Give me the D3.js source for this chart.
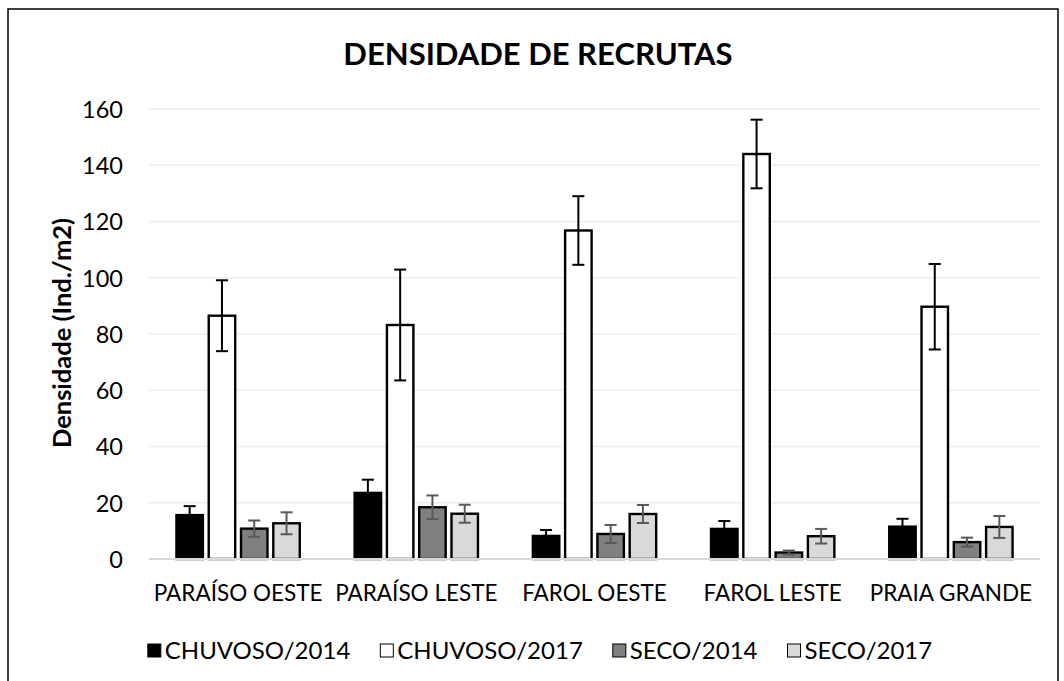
<!DOCTYPE html>
<html>
<head>
<meta charset="utf-8">
<script src="https://cdn.jsdelivr.net/npm/d3@7"></script>
<style>
  body { margin: 0; background: #fff; }
  svg { display: block; }
  text { font-family: Lato, "Open Sans", sans-serif; fill: #000; }
</style>
</head>
<body>
<div id="chart"></div>
<script>
// data
var categories = ["PARAÍSO OESTE", "PARAÍSO LESTE", "FAROL OESTE", "FAROL LESTE", "PRAIA GRANDE"];
var seriesNames = ["CHUVOSO/2014", "CHUVOSO/2017", "SECO/2014", "SECO/2017"];

var chuvoso2014 = [15.6, 23.5, 8.2, 10.7, 11.5];
var chuvoso2014Err = [3.2, 4.7, 2.1, 2.8, 2.8];
var chuvoso2017 = [86.5, 83.2, 116.8, 144.0, 89.7];
var chuvoso2017Err = [12.6, 19.7, 12.2, 12.2, 15.2];
var seco2014 = [10.8, 18.4, 8.9, 2.3, 6.0];
var seco2014Err = [2.9, 4.2, 3.2, 0.7, 1.6];
var seco2017 = [12.7, 16.1, 16.0, 8.1, 11.4];
var seco2017Err = [3.9, 3.2, 3.2, 2.6, 3.9];

var yTicks = [0, 20, 40, 60, 80, 100, 120, 140, 160];

var seriesValues = [chuvoso2014, chuvoso2017, seco2014, seco2017];
var seriesErrors = [chuvoso2014Err, chuvoso2017Err, seco2014Err, seco2017Err];
var fills = ["#000000", "#ffffff", "#808080", "#d9d9d9"];
var errColors = ["#000000", "#000000", "#595959", "#595959"];

var svgWidth = 1064;
var svgHeight = 681;
var plot = { left: 149, right: 1040, top: 109, bottom: 559 };

var svg = d3.select("#chart")
  .append("svg")
  .attr("width", svgWidth)
  .attr("height", svgHeight);

// outer chart frame
svg.append("rect")
  .attr("x", 8)
  .attr("y", 9)
  .attr("width", 1050)
  .attr("height", 700)
  .attr("fill", "none")
  .attr("stroke", "#000")
  .attr("stroke-width", 1.5);

// scales
var x0 = d3.scaleBand()
  .domain(categories)
  .range([plot.left, plot.right]);

var x1 = d3.scaleBand()
  .domain(seriesNames)
  .range([0, x0.bandwidth()])
  .paddingInner(0.18)
  .paddingOuter(0.85);

var y = d3.scaleLinear()
  .domain([0, 160])
  .range([plot.bottom, plot.top]);

// gridlines
svg.append("g")
  .selectAll("line")
  .data(yTicks.slice(1))
  .enter()
  .append("line")
  .attr("x1", plot.left)
  .attr("x2", plot.right)
  .attr("y1", d => y(d))
  .attr("y2", d => y(d))
  .attr("stroke", "#ececec")
  .attr("stroke-width", 1.5);

// y axis labels
var yAxis = d3.axisLeft(y).tickValues(yTicks).tickSize(0).tickPadding(26);
var yAxisG = svg.append("g")
  .attr("transform", `translate(${plot.left}, 0)`)
  .call(yAxis);
yAxisG.select(".domain").remove();
yAxisG.selectAll("text")
  .style("font-family", "Lato")
  .style("font-size", "23.5px")
  .attr("dy", "0.36em");

// bars
var groups = svg.append("g")
  .selectAll("g")
  .data(seriesNames)
  .enter()
  .append("g");

groups.each(function(name, s) {
  var g = d3.select(this);
  var vals = seriesValues[s];

  g.selectAll("rect")
    .data(categories)
    .enter()
    .append("rect")
    .attr("x", c => x0(c) + x1(name))
    .attr("y", (c, i) => y(vals[i]))
    .attr("width", x1.bandwidth())
    .attr("height", (c, i) => y(0) - y(vals[i]))
    .attr("fill", fills[s])
    .attr("stroke", "#000")
    .attr("stroke-width", 2.4);
});

// x axis line
svg.append("line")
  .attr("x1", plot.left)
  .attr("x2", plot.right)
  .attr("y1", y(0))
  .attr("y2", y(0))
  .attr("stroke", "#d9d9d9")
  .attr("stroke-width", 2);

// error bars
groups.each(function(name, s) {
  var g = d3.select(this);
  var vals = seriesValues[s];
  var errs = seriesErrors[s];
  var cx = c => x0(c) + x1(name) + x1.bandwidth() / 2;

  var eb = g.selectAll(".err")
    .data(categories)
    .enter()
    .append("g")
    .attr("class", "err")
    .attr("stroke", errColors[s])
    .attr("stroke-width", 2);

  eb.append("line")
    .attr("x1", cx).attr("x2", cx)
    .attr("y1", (c, i) => y(vals[i] + errs[i]))
    .attr("y2", (c, i) => y(Math.max(0, vals[i] - errs[i])));
  eb.append("line")
    .attr("x1", c => cx(c) - 6).attr("x2", c => cx(c) + 6)
    .attr("y1", (c, i) => y(vals[i] + errs[i]))
    .attr("y2", (c, i) => y(vals[i] + errs[i]));
  eb.append("line")
    .attr("x1", c => cx(c) - 6).attr("x2", c => cx(c) + 6)
    .attr("y1", (c, i) => y(Math.max(0, vals[i] - errs[i])))
    .attr("y2", (c, i) => y(Math.max(0, vals[i] - errs[i])));
});

// category labels
svg.append("g")
  .selectAll("text")
  .data(categories)
  .enter()
  .append("text")
  .attr("x", c => x0(c) + x0.bandwidth() / 2)
  .attr("y", 601)
  .attr("text-anchor", "middle")
  .style("font-size", "22.5px")
  .text(c => c);

// title
svg.append("text")
  .attr("x", 538)
  .attr("y", 65)
  .attr("text-anchor", "middle")
  .style("font-size", "31px")
  .style("font-weight", "bold")
  .text("DENSIDADE DE RECRUTAS");

// y axis title
svg.append("text")
  .attr("transform", "translate(71, 333) rotate(-90)")
  .attr("text-anchor", "middle")
  .style("font-size", "25.5px")
  .style("font-weight", "bold")
  .text("Densidade (Ind./m2)");

// legend
var legend = svg.append("g");
var lx = 0;
var itemGap = 30;
seriesNames.forEach(function(name, s) {
  var item = legend.append("g").attr("transform", `translate(${lx}, 0)`);
  item.append("rect")
    .attr("x", 0)
    .attr("y", 644)
    .attr("width", 13)
    .attr("height", 13)
    .attr("fill", fills[s])
    .attr("stroke", "#000")
    .attr("stroke-width", 1);
  var t = item.append("text")
    .attr("x", 17)
    .attr("y", 659)
    .style("font-size", "24px")
    .text(name);
  lx += 17 + t.node().getComputedTextLength() + itemGap;
});
var legendWidth = lx - itemGap;
legend.attr("transform", `translate(${540 - legendWidth / 2}, 0)`);
</script>
</body>
</html>
